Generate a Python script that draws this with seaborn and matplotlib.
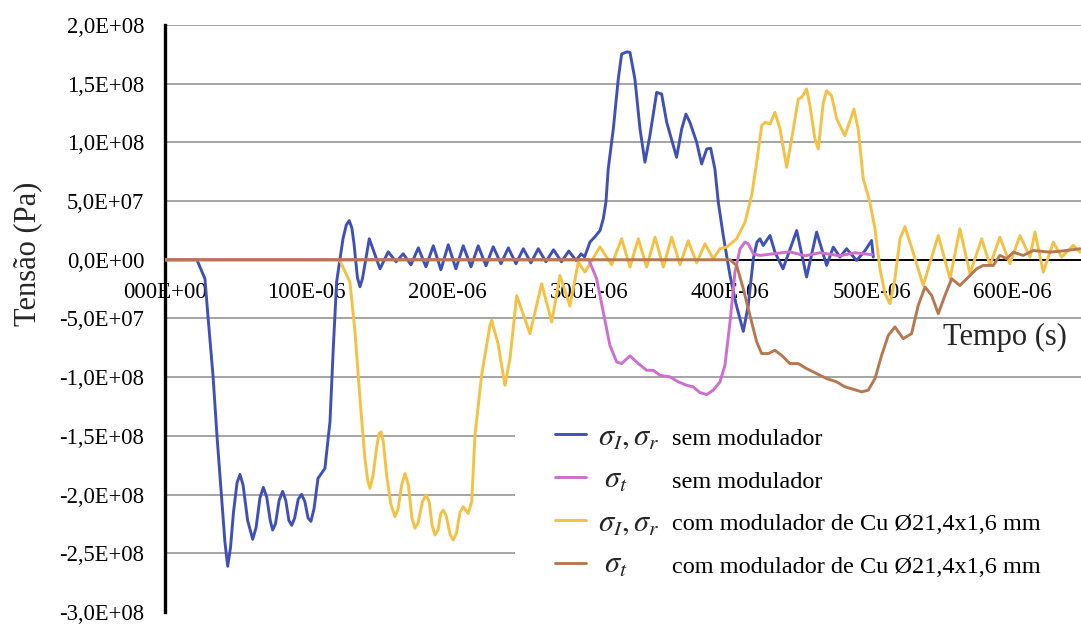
import matplotlib
matplotlib.use("Agg")
import matplotlib.pyplot as plt
from matplotlib.patches import Rectangle
import pandas as pd
import seaborn as sns

# Time in microseconds, stress in MPa
t_ir_sem = [0, 22.6, 28.3, 30.4, 34.0, 36.8, 40.3, 42.4, 44.4, 46.4, 48.5, 51.0, 53.1, 55.3,
            58.5, 62.1, 64.5, 67.2, 69.6, 72.0, 74.5, 76.2, 78.2, 80.8, 83.3, 85.5, 87.7, 89.7,
            91.8, 94.3, 96.7, 99.0, 101.3, 103.3, 105.5, 108.3, 113.2, 116.8, 119.1, 121.5,
            126.0, 128.3, 130.4, 132.3, 133.8, 136.2, 138.0, 139.8, 144.6,
            152.2, 158.0, 163.5, 168.6, 174.1, 179.3, 184.7, 189.9, 195.3, 200.5, 205.9, 211.1,
            216.6, 221.7, 227.2, 232.3, 237.8, 243.0, 248.4, 253.6, 259.0, 264.2, 269.6, 275.0,
            280.6, 285.8, 290.9, 294.5, 297.0, 300.8, 304.3, 307.9, 310.2, 312.1, 313.7, 317.3,
            320.8, 323.2, 326.8, 329.1, 332.6, 336.2, 339.7, 343.2, 348.0, 351.5, 355.1, 362.1,
            365.7, 368.7, 371.5, 376.3, 379.8, 383.4, 386.2, 389.2, 391.6, 395.1, 399.9, 404.1,
            409.3, 412.8, 416.4, 419.0, 421.1, 423.4, 428.2, 431.7, 437.4, 447.1, 454.1, 461.2,
            468.3, 473.0, 477.7, 482.4, 489.5, 495.4, 500.1, 501.3]
s_ir_sem = [0, 0, -16.2, -47.6, -98.6, -149.7, -205.8, -240, -261.1, -245, -215, -190, -182.8,
            -192, -222, -238.1, -228, -203, -193.9, -202, -222, -230.2, -225, -205, -197.3,
            -205, -222, -226.2, -220, -204, -199.8, -206, -220, -222.8, -212, -186.2, -177.7,
            -137.8, -75.7, -18.7, 17.9, 29.5, 33.4, 27.0, 13.6, -15.0, -23.0, -16.0, 17.9,
            -7.7, 6.8, -1.7, 5.1, -4.3, 10.2, -6.0, 11.9, -8.5, 12.8, -7.7,
            11.9, -6.0, 11.9, -5.1, 11.1, -3.4, 10.2, -3.4, 9.4, -2.6, 9.4, -1.7, 8.5, -1.7,
            7.5, -0.6, 5.0, 2.5, 15.1, 19.6, 24.9, 34.9, 49.3, 77.4, 111.4, 153.9, 175.2, 177.1,
            176.6, 153.9, 111.4, 83.1, 105.7, 142.6, 141.2, 117.1, 87.3, 111.4, 124.1, 117.1,
            100.1, 81.6, 94.4, 95.0, 77.4, 49.1, 20.7, -13.4, -37.4, -61.0, -38.9, 0.9, 15.1,
            17.9, 12.2, 20.7, 6.5, -7.7, 24.9, -14.7, 23.6, -4.8, 10.8, 2.3, 9.4, -0.6, 7.7,
            16.4, 2.3]

t_t_sem = [0, 300.0, 305.5, 310.2, 314.9, 319.7, 323.2, 329.1, 335.0, 340.9, 345.6, 350.3,
           357.4, 363.3, 369.2, 373.9, 378.6, 383.4, 388.0, 392.8, 396.3, 399.9, 403.4, 407.0,
           410.5, 412.8, 416.4, 421.1, 430.5, 442.3, 452.9, 463.5, 477.7, 488.3, 500.4]
s_t_sem = [0, 0, -16.2, -44.5, -72.9, -87.0, -88.4, -81.9, -88.4, -94.1, -94.1, -98.4, -99.7,
           -104.0, -106.9, -108.3, -113.1, -114.8, -111.1, -104.0, -89.9, -53.0, -10.5, 9.4,
           15.1, 13.6, 5.1, 3.7, 5.1, 6.8, 3.4, 6.0, 3.4, 6.0, 4.3]

t_ir_com = [0, 120.3, 123.8, 130.9, 134.5, 138.0, 141.5,
            143.5, 145.1, 147.2, 149.8, 151.5, 152.9, 154.5, 156.9, 159.8, 162.8, 165.0, 167.5,
            169.9, 172.3, 174.8, 176.9, 179.2, 182.2, 184.7, 187.0, 189.0, 191.1, 193.3, 195.2,
            197.0, 199.0, 201.8, 204.0, 206.3, 208.8, 211.1,
            214.6, 217.1, 219.4, 224.1, 230.0,
            231.2, 235.7, 240.6, 244.2, 248.9, 258.3, 266.6, 273.7, 279.5, 286.6, 292.5, 297.2,
            307.9, 316.1, 323.2, 329.1, 335.0, 340.9, 346.8, 352.7, 358.6, 364.5, 370.3, 376.3,
            382.2, 388.0, 392.8, 397.5, 404.6, 410.5, 415.2, 418.8, 422.3, 424.6, 428.2, 431.7,
            435.3, 440.0, 444.7, 448.2, 450.6, 454.1, 456.5, 460.0, 462.4, 465.9, 468.3, 471.8,
            475.4, 477.7, 481.2, 483.6, 487.6, 490.6, 494.2, 498.9, 502.5, 506.0, 509.6, 513.1,
            516.6, 520.2, 523.7, 528.7, 536.6, 547.3, 555.6, 562.6, 569.7, 578.0, 583.9, 590.9,
            598.0, 605.1, 612.2, 615.7, 621.6, 628.7, 634.6, 642.8, 647.6]
s_ir_com = [0, 0, -0.6, -19.0, -61.5, -118.2, -169.2,
            -188, -194.7, -184, -160, -148, -146.5, -155, -183.4, -208, -218.8, -212, -192,
            -182.0, -192, -220, -228.7, -224, -206, -200.4, -206, -226, -234.4, -230, -216,
            -213.2, -218, -234, -238.7, -233, -215, -210.3,
            -216.0, -206.0, -149.4, -98.4, -55.9,
            -51.6, -71.4, -106.9, -84.2, -30.4, -62.9, -20.4, -53.0, -13.4, -39.4,
            -2.0, -10.5, 11.1, -4.3, 17.9, -6.2, 17.9, -6.2, 19.3, -6.2, 19.3, -4.3, 16.2, -2.6,
            13.6, 0.9, 9.4, 10.8, 17.9, 32.1, 54.7, 83.1, 114.2, 117.1, 115.6, 125.6, 111.4,
            78.8, 111.4, 136.9, 138.4, 145.4, 131.2, 102.9, 94.4, 134.1, 144.0, 139.7, 119.9,
            114.2, 105.7, 114.2, 128.4, 111.4, 68.9, 49.1, 26.4, -7.7, -28.9, -37.4, -16.2, 17.9,
            28.1, 9.4, -21.9, 20.7, -16.2, 26.4, -11.9, 17.9, -4.8, 19.3, -3.4, 20.7, 2.3, 23.6,
            -10.5, 15.1, 2.3, 12.2, 6.5]

t_t_com = [0, 399.9, 404.6, 409.3, 414.0, 418.8, 422.3, 427.0, 431.7, 436.4, 442.3, 448.2,
           454.1, 461.2, 468.3, 475.4, 481.2, 487.1, 493.1, 497.7, 502.5, 507.2, 511.9, 516.6,
           522.5, 528.4, 533.1, 537.9, 542.6, 547.3, 552.0, 556.8, 562.6, 567.4, 574.4, 579.1,
           586.2, 590.9, 595.7, 600.4, 607.4, 614.5, 626.3, 638.1, 647.6]
s_t_com = [0, 0, -4.8, -24.7, -47.4, -70.0, -79.9, -79.9, -77.1, -81.4, -88.4, -88.4, -92.7,
           -96.9, -101.2, -104.0, -108.2, -110.3, -112.5, -111.1, -101.2, -81.4, -64.4, -57.2,
           -67.2, -62.9, -38.9, -23.2, -30.4, -45.9, -30.4, -16.2, -21.9, -16.2, -7.7, -4.8,
           -4.8, 3.7, 0.9, 6.5, 3.7, 7.9, 6.5, 7.9, 9.4]

x_ticks = [0, 100, 200, 300, 400, 500, 600]
x_tick_labels = ["000E+00", "100E-06", "200E-06", "300E-06", "400E-06", "500E-06", "600E-06"]
y_ticks = [200, 150, 100, 50, 0, -50, -100, -150, -200, -250, -300]
y_tick_labels = ["2,0E+08", "1,5E+08", "1,0E+08", "5,0E+07", "0,0E+00", "-5,0E+07",
                 "-1,0E+08", "-1,5E+08", "-2,0E+08", "-2,5E+08", "-3,0E+08"]

legend_symbols = [r"$\sigma_{I},\sigma_{r}$", r"$\;\sigma_{t}$",
                  r"$\sigma_{I},\sigma_{r}$", r"$\;\sigma_{t}$"]
legend_texts = ["sem modulador", "sem modulador",
                "com modulador de Cu Ø21,4x1,6 mm", "com modulador de Cu Ø21,4x1,6 mm"]

sns.set_style("white")
plt.rcParams["font.family"] = ["Liberation Serif", "DejaVu Serif"]
plt.rcParams["mathtext.fontset"] = "stix"

fig = plt.figure(figsize=(10.81, 6.26), dpi=100)
ax = fig.add_axes([0.1526, 0.0224, 0.8474, 0.9377])

c_blue, c_pink, c_yellow, c_brown = "#3f51b8", "#cc6fd0", "#f4c145", "#b7774f"

handles = {}
for key, t, s, col, z in [
    ("ir_sem", t_ir_sem, s_ir_sem, c_blue, 3.0),
    ("ir_com", t_ir_com, s_ir_com, c_yellow, 3.1),
    ("t_sem", t_t_sem, s_t_sem, c_pink, 3.2),
    ("t_com", t_t_com, s_t_com, c_brown, 3.3),
]:
    df = pd.DataFrame({"t": t, "s": s})
    sns.lineplot(data=df, x="t", y="s", ax=ax, color=col, linewidth=2.1,
                 sort=False, estimator=None, zorder=z, legend=False)
    line = ax.lines[-1]
    line.set_solid_joinstyle("round")
    line.set_solid_capstyle("round")
    handles[key] = line

ax.set_xlim(0, 648.3)
ax.set_ylim(-300, 200)
ax.set_yticks(y_ticks)
ax.set_yticklabels(y_tick_labels)
ax.set_xticks(x_ticks)
ax.set_xticklabels(x_tick_labels)

for side in ("top", "right"):
    ax.spines[side].set_visible(False)
ax.spines["left"].set_linewidth(2.4)
ax.spines["left"].set_color("black")
ax.spines["bottom"].set_position(("data", 0))
ax.spines["bottom"].set_linewidth(1.4)
ax.spines["bottom"].set_color("black")

ax.tick_params(axis="y", direction="out", length=8, width=1.6, pad=7,
               labelsize=16.3, colors="black")
ax.tick_params(axis="x", direction="inout", length=6, width=2.0, pad=13,
               labelsize=16.5, colors="black")

ax.set_axisbelow(True)
ax.yaxis.grid(True, color="#8c8c8c", linewidth=1.1)
ax.xaxis.grid(False)
for tick in ax.yaxis.get_major_ticks():
    if tick.get_loc() in (0, -300):
        tick.gridline.set_visible(False)

ax.set_ylabel("Tensão (Pa)", fontsize=22)
ax.yaxis.set_label_coords(-0.1496, 0.610)
ax.yaxis.label.set_va("center")
ax.set_xlabel("Tempo (s)", fontsize=22)
ax.xaxis.set_label_coords(0.917, 0.467)
ax.xaxis.label.set_va("center")

# white panel behind the legend
ax.add_patch(Rectangle((0.382, 0.02), 0.618, 0.355, transform=ax.transAxes,
                       facecolor="white", edgecolor="none", zorder=1.0))

leg = ax.legend([handles["ir_sem"], handles["t_sem"], handles["ir_com"], handles["t_com"]],
                legend_symbols, loc="upper left", bbox_to_anchor=(0.4258, 0.322),
                frameon=False, borderpad=0, borderaxespad=0, fontsize=22,
                handlelength=1.0, handletextpad=0.4, labelspacing=0.45)
leg.set_zorder(5)

fig.canvas.draw()
for txt, desc in zip(leg.get_texts(), legend_texts):
    _, y_base = txt.get_transform().transform(txt.get_position())
    ax.annotate(desc, xy=(0.5535, y_base), xycoords=("axes fraction", "figure pixels"),
                ha="left", va="baseline", fontsize=17.5, color="black", zorder=5)

fig.savefig("out.png", dpi=100, facecolor="white")
